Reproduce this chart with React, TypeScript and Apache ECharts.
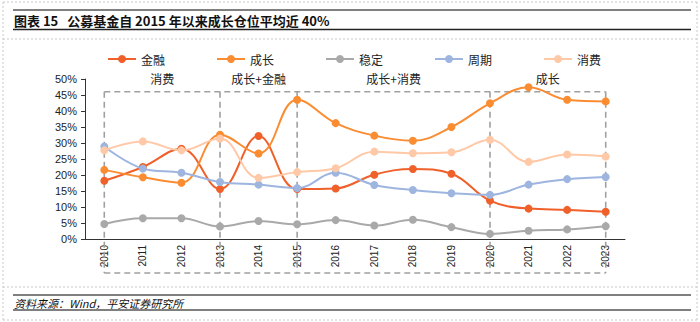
import React, { useEffect, useRef } from "react";
import * as echarts from "echarts";

const years = ["2010", "2011", "2012", "2013", "2014", "2015", "2016", "2017", "2018", "2019", "2020", "2021", "2022", "2023"];
const finance = [18.2, 22.5, 28.2, 15.6, 32.2, 15.6, 15.8, 20.1, 21.9, 20.4, 12.0, 9.5, 9.1, 8.5];
const growth = [21.6, 19.3, 17.6, 32.6, 26.7, 43.5, 36.2, 32.3, 30.7, 35.0, 42.4, 47.4, 43.5, 43.0];
const stable = [4.7, 6.5, 6.5, 3.9, 5.6, 4.6, 5.9, 4.2, 6.0, 3.7, 1.6, 2.6, 3.0, 4.0];
const cycle = [28.9, 22.0, 20.7, 17.8, 17.0, 15.9, 20.7, 16.9, 15.3, 14.3, 13.8, 17.0, 18.7, 19.4];
const consume = [27.7, 30.5, 27.7, 31.4, 19.1, 20.9, 22.1, 27.3, 26.8, 27.1, 31.0, 24.1, 26.4, 25.8];
const yTicks = { min: 0, max: 50, interval: 5 };
const boxEdges = [0, 3, 5, 10, 13];
const boxLabels = ["消费", "成长+金融", "成长+消费", "成长"];
const boxTop = 46;

const seriesDefs = [
  { name: "金融", data: finance, color: "#F0602A" },
  { name: "成长", data: growth, color: "#FA8C32" },
  { name: "稳定", data: stable, color: "#A9A9A9" },
  { name: "周期", data: cycle, color: "#9DB5DF" },
  { name: "消费", data: consume, color: "#FFC8A6" },
];

const CJK = '"Noto Sans CJK SC", "Noto Sans", sans-serif';

export default function App() {
  const ref = useRef<HTMLDivElement>(null);
  useEffect(() => {
    document.body.style.margin = "0";
    const chart = echarts.init(ref.current!, null, { renderer: "svg" });
    chart.setOption({
      animation: false,
      backgroundColor: "#fff",
      grid: { left: 85, top: 79, right: 75, bottom: 83 },
      legend: {
        left: 102,
        top: 47,
        itemWidth: 28,
        itemHeight: 10,
        itemGap: 51,
        textStyle: { fontFamily: CJK, fontSize: 12, color: "#222", lineHeight: 14 },
        data: seriesDefs.map((s) => s.name),
      },
      xAxis: {
        type: "category",
        data: years,
        boundaryGap: true,
        axisLine: { lineStyle: { color: "#333", width: 1 } },
        axisTick: { inside: true, length: 4, lineStyle: { color: "#333" } },
        axisLabel: { rotate: 90, fontSize: 10, fontFamily: "Arial, Liberation Sans, sans-serif", color: "#222", margin: 6 },
      },
      yAxis: {
        type: "value",
        min: yTicks.min,
        max: yTicks.max,
        interval: yTicks.interval,
        axisLine: { show: true, lineStyle: { color: "#333", width: 1 } },
        axisTick: { show: true, length: 4, lineStyle: { color: "#333" } },
        splitLine: { show: false },
        axisLabel: { formatter: "{value}%", fontSize: 11, fontFamily: "Arial, Liberation Sans, sans-serif", color: "#222", margin: 8 },
      },
      series: seriesDefs.map((s) => ({
        name: s.name,
        type: "line",
        data: s.data,
        smooth: 0.4,
        symbol: "circle",
        symbolSize: 8,
        itemStyle: { color: s.color },
        lineStyle: { color: s.color, width: 2 },
      })),
    });

    const px = (i: number, v: number) => chart.convertToPixel({ gridIndex: 0 }, [i, v]) as number[];
    const topY = px(0, boxTop)[1];
    const bottomY = 273;
    const xs = boxEdges.map((i) => px(i, 0)[0]);
    const dash = { stroke: "#A0A0A0", lineWidth: 1.6, lineDash: [6, 4] };
    const graphics: any[] = [];
    graphics.push({ type: "line", shape: { x1: xs[0], y1: topY, x2: xs[xs.length - 1], y2: topY }, style: dash, z: 1 });
    graphics.push({ type: "line", shape: { x1: xs[0], y1: bottomY, x2: xs[xs.length - 1], y2: bottomY }, style: dash, z: 1 });
    xs.forEach((x) => {
      graphics.push({ type: "line", shape: { x1: x, y1: topY, x2: x, y2: bottomY }, style: dash, z: 1 });
    });
    boxLabels.forEach((t, k) => {
      graphics.push({
        type: "text",
        x: (xs[k] + xs[k + 1]) / 2,
        y: 78,
        style: { text: t, fontSize: 12, lineHeight: 13, fontFamily: CJK, fill: "#222", align: "center", verticalAlign: "middle" },
      });
    });
    // frame: title and footer
    const dot = { stroke: "#C8C8C8", lineWidth: 1, lineDash: [2, 2] };
    graphics.push({ type: "line", shape: { x1: 3, y1: 2, x2: 697, y2: 2 }, style: dot });
    graphics.push({ type: "line", shape: { x1: 3, y1: 39, x2: 697, y2: 39 }, style: dot });
    graphics.push({ type: "line", shape: { x1: 3, y1: 287, x2: 697, y2: 287 }, style: dot });
    graphics.push({ type: "line", shape: { x1: 3, y1: 320, x2: 697, y2: 320 }, style: dot });
    graphics.push({ type: "line", shape: { x1: 3, y1: 2, x2: 3, y2: 320 }, style: dot });
    graphics.push({ type: "line", shape: { x1: 697, y1: 2, x2: 697, y2: 320 }, style: dot });
    graphics.push({ type: "line", shape: { x1: 13, y1: 10, x2: 691, y2: 10 }, style: { stroke: "#808080", lineWidth: 2 } });
    graphics.push({ type: "line", shape: { x1: 13, y1: 29.5, x2: 691, y2: 29.5 }, style: { stroke: "#222", lineWidth: 1.5 } });
    graphics.push({
      type: "text",
      x: 14,
      y: 20,
      style: { text: "图表 15   公募基金自 2015 年以来成长仓位平均近 40%", fontSize: 13, fontWeight: "bold", fontFamily: CJK, fill: "#111", verticalAlign: "middle" },
    });
    graphics.push({ type: "line", shape: { x1: 13, y1: 295, x2: 691, y2: 295 }, style: { stroke: "#808080", lineWidth: 2 } });
    graphics.push({ type: "line", shape: { x1: 13, y1: 310, x2: 691, y2: 310 }, style: { stroke: "#555", lineWidth: 1.5 } });
    graphics.push({
      type: "text",
      x: 14,
      y: 302.5,
      style: { text: "资料来源：Wind，平安证券研究所", fontSize: 11, fontStyle: "italic", fontFamily: CJK, fill: "#111", verticalAlign: "middle" },
    });
    chart.setOption({ graphic: graphics });
    return () => chart.dispose();
  }, []);
  return <div ref={ref} style={{ position: "absolute", left: 0, top: 0, width: 700, height: 322 }} />;
}
